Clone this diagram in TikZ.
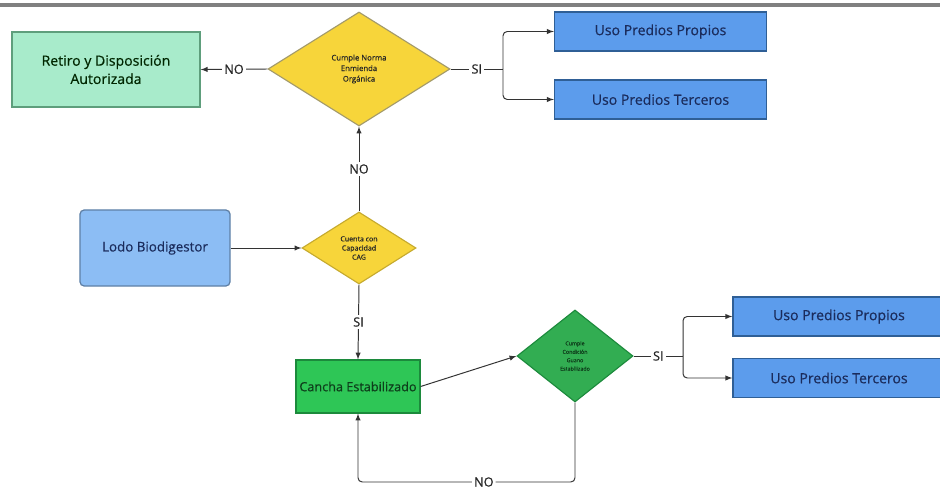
\documentclass[tikz,border=0pt]{standalone}
\usepackage{fontspec}
\setmainfont{Open Sans}[FakeBold=0.5]
\usetikzlibrary{shapes.geometric}
\tikzset{>=latex}
\definecolor{mint}{HTML}{A8EBCB}
\definecolor{mintline}{HTML}{5E9E7C}
\definecolor{amarillo}{HTML}{F7D53A}
\definecolor{amarilloline}{HTML}{A39A6A}
\definecolor{azul}{HTML}{5C9CEC}
\definecolor{azulline}{HTML}{2F5F96}
\definecolor{celeste}{HTML}{8CBDF4}
\definecolor{celesteline}{HTML}{5F80A6}
\definecolor{verde}{HTML}{2EC656}
\definecolor{verdeline}{HTML}{1C8A3C}
\definecolor{textoazul}{HTML}{1B2C5C}
\definecolor{textoverde}{HTML}{0E3E1B}
\tikzset{
  caja/.style={draw,line width=0.9pt,minimum width=#1,align=center,inner sep=0pt},
  usobox/.style={caja=5.3cm,fill=azul,draw=azulline,minimum height=0.97cm,text=textoazul,font=\fontsize{10}{12}\selectfont},
  rombo/.style={diamond,draw,line width=0.8pt,inner sep=0pt,align=center,text=black!85},
  flow/.style={->,line width=0.7pt,draw=black!80},
  etiq/.style={fill=white,inner sep=1.5pt,text=black!85,font=\fontsize{9}{10}\selectfont}
}
\begin{document}
\begin{tikzpicture}[x=0.025cm,y=-0.025cm]
\useasboundingbox (0,0) rectangle (940,490);
\fill[white] (0,0) rectangle (940,490);
\draw[line width=2.2pt,black!50] (0,5) -- (940,5);

% nodos
\node[caja=4.7cm,fill=mint,draw=mintline,minimum height=1.87cm,text=black!85!green,font=\fontsize{10}{13}\selectfont] (retiro) at (106,69.5) {Retiro y Disposición\\Autorizada};
\node[rombo,fill=amarillo,draw=amarilloline,minimum width=4.55cm,minimum height=2.85cm,font=\fontsize{5.5}{7.5}\selectfont] (normaEO) at (359,69) {Cumple Norma\\Enmienda\\Orgánica};
\node[usobox] (propiosA) at (660.5,31.5) {Uso Predios Propios};
\node[usobox] (tercerosA) at (660.5,99.5) {Uso Predios Terceros};
\node[caja=3.75cm,fill=celeste,draw=celesteline,rounded corners=3pt,minimum height=1.9cm,text=textoazul,font=\fontsize{9.5}{12}\selectfont] (lodo) at (155,248) {Lodo Biodigestor};
\node[rombo,fill=amarillo,draw=amarillo!80!black,minimum width=2.85cm,minimum height=1.8cm,font=\fontsize{5}{6.5}\selectfont] (capCAG) at (359,248) {Cuenta con\\Capacidad\\CAG};
\node[caja=3.1cm,fill=verde,draw=verdeline,minimum height=1.32cm,text=textoverde,font=\fontsize{9}{11}\selectfont] (cancha) at (358,386.5) {Cancha Estabilizado};
\node[rombo,fill=verde!85!black!95,draw=verdeline,minimum width=2.9cm,minimum height=2.3cm,text=textoverde,font=\fontsize{3.8}{6}\selectfont] (guano) at (575,356) {Cumple\\Condición\\Guano\\Estabilizado};
\node[usobox] (propiosB) at (839,316.5) {Uso Predios Propios};
\node[usobox] (tercerosB) at (839,378) {Uso Predios Terceros};

\coordinate (ramaA) at (503,69);
\coordinate (ramaB) at (683,356);
\coordinate (vuelta) at (575,482);

% conectores
\draw[flow] (normaEO.west) -- node[etiq]{NO} (retiro.east);
\draw[line width=0.7pt,black!80] (normaEO.east) -- node[etiq]{SI} (ramaA);
\draw[flow,rounded corners=3pt] (ramaA) |- (propiosA.west);
\draw[flow,rounded corners=3pt] (ramaA) |- (tercerosA.west);
\draw[flow] (capCAG.north) -- node[etiq]{NO} (normaEO.south);
\draw[flow] (lodo.east) -- (capCAG.west);
\draw[flow] (capCAG.south) -- node[etiq]{SI} (cancha.north);
\draw[flow] (cancha.east) -- (guano.west);
\draw[line width=0.7pt,black!80] (guano.east) -- node[etiq]{SI} (ramaB);
\draw[flow,rounded corners=3pt] (ramaB) |- (propiosB.west);
\draw[flow,rounded corners=3pt] (ramaB) |- (tercerosB.west);
\draw[flow,rounded corners=3pt] (guano.south) -- (vuelta) -| node[etiq,pos=0.21]{NO} (cancha.south);
\end{tikzpicture}
\end{document}
